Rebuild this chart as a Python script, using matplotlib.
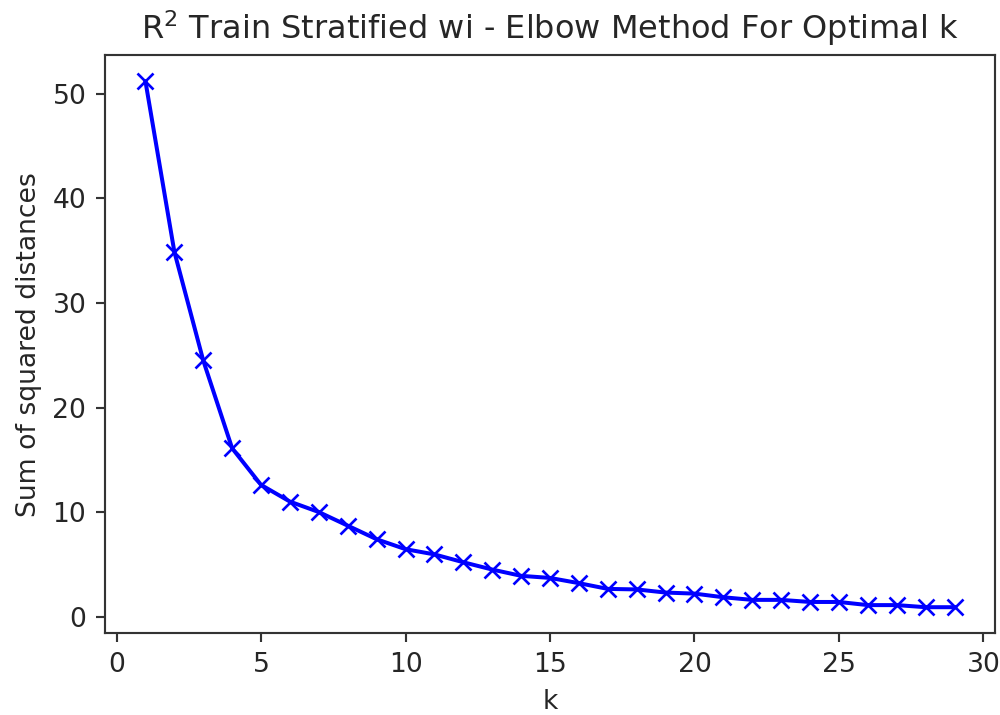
import matplotlib
matplotlib.use("Agg")
import matplotlib.pyplot as plt

k_values = list(range(1, 30))
sum_sq_dist = [51.2, 34.9, 24.5, 16.1, 12.6, 11.0, 10.0, 8.7, 7.4, 6.45,
               5.95, 5.2, 4.5, 3.9, 3.7, 3.2, 2.65, 2.6, 2.3, 2.2,
               1.85, 1.6, 1.6, 1.4, 1.4, 1.1, 1.1, 0.9, 0.9]

dpi = 192
plt.rcParams['text.color'] = '#262626'
plt.rcParams['axes.labelcolor'] = '#262626'
plt.rcParams['xtick.labelcolor'] = '#262626'
plt.rcParams['ytick.labelcolor'] = '#262626'
plt.rcParams['axes.edgecolor'] = '#333333'
plt.rcParams['xtick.color'] = '#333333'
plt.rcParams['ytick.color'] = '#333333'
fig = plt.figure(figsize=(1000 / dpi, 715 / dpi), dpi=dpi)
ax = fig.add_axes([0.105, 0.114, 0.89, 0.809])
ax.plot(k_values, sum_sq_dist, 'bx-')
ax.set_xlabel('k')
ax.set_ylabel('Sum of squared distances')
ax.set_title(r'R$^2$ Train Stratified wi - Elbow Method For Optimal k')
ax.set_xticks([0, 5, 10, 15, 20, 25, 30])
ax.set_yticks([0, 10, 20, 30, 40, 50])
fig.savefig('out.png', dpi=dpi)
